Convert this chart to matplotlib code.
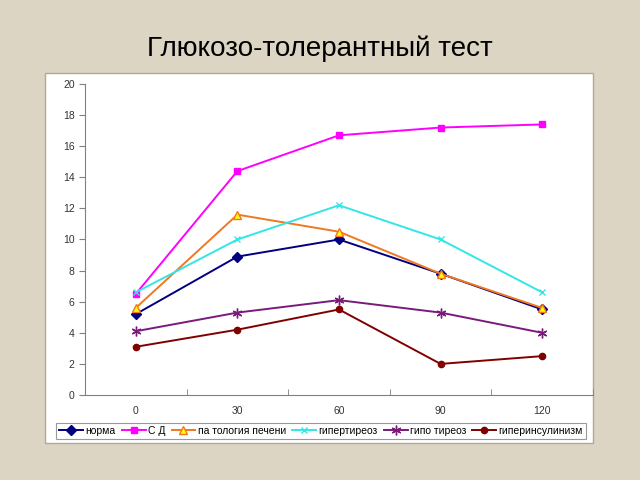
import matplotlib
matplotlib.use("Agg")
import matplotlib.pyplot as plt
from matplotlib.patches import Rectangle

plt.rcParams['font.family'] = ['Liberation Sans', 'DejaVu Sans']

times = ["0", "30", "60", "90", "120"]
norma = [5.2, 8.9, 10.0, 7.8, 5.5]
sd = [6.5, 14.4, 16.7, 17.2, 17.4]
liver = [5.6, 11.6, 10.5, 7.8, 5.6]
hyperthyr = [6.6, 10.0, 12.2, 10.0, 6.6]
hypothyr = [4.1, 5.3, 6.1, 5.3, 4.0]
hyperins = [3.1, 4.2, 5.5, 2.0, 2.5]

labels = ["норма", "С Д", "па тология печени", "гипертиреоз", "гипо тиреоз", "гиперинсулинизм"]

fig = plt.figure(figsize=(6.4, 4.8), dpi=100)
fig.patch.set_facecolor("#ddd5c4")
fig.patches.append(Rectangle((45 / 640, 1 - 443 / 480), 548 / 640, 370 / 480,
                             transform=fig.transFigure, facecolor="white",
                             edgecolor="#b0a898", lw=1, zorder=-10))
fig.text(0.5, 0.898, "Глюкозо-толерантный тест", ha="center", va="center",
         fontsize=20, color="black")

ax = fig.add_axes([85 / 640, 1 - 395 / 480, 508 / 640, 311 / 480])
ax.set_facecolor("none")
x = list(range(len(times)))

series = [
    (norma, "#000080", "D", "#000080", "#000080", 5),
    (sd, "#ff00ff", "s", "#ff00ff", "#ff00ff", 5),
    (liver, "#f07820", "^", "#ffff00", "#f07820", 6),
    (hyperthyr, "#33e6e6", "x", "#33e6e6", "#33e6e6", 5),
    (hypothyr, "#7a1a7a", (6, 2, 0), "#7a1a7a", "#7a1a7a", 7),
    (hyperins, "#800000", "o", "#800000", "#800000", 4.5),
]
for vals, col, mk, fc, ec, ms in series:
    ax.plot(x, vals, color=col, lw=1.4, marker=mk, markerfacecolor=fc,
            markeredgecolor=ec, markersize=ms, markeredgewidth=1)

ax.set_xlim(-0.5, 4.5)
ax.set_ylim(0, 20)
ax.set_yticks(range(0, 21, 2))
ax.set_xticks(x)
ax.set_xticklabels(times)
ax.set_xticks([i + 0.5 for i in range(-1, 5)], minor=True)
ax.tick_params(axis="x", which="major", length=0, pad=8)
ax.tick_params(axis="x", which="minor", length=4, direction="in", color="#808080")
ax.tick_params(axis="y", length=4, direction="out", color="#808080")
ax.tick_params(labelsize=7.5, labelcolor="#333333")
for s in ["top", "right"]:
    ax.spines[s].set_visible(False)
for s in ["left", "bottom"]:
    ax.spines[s].set_color("#808080")

leg = fig.legend(labels, loc="center", bbox_to_anchor=(321 / 640, 1 - 431 / 480),
                 ncol=6, fontsize=7.5, frameon=True, fancybox=False,
                 handlelength=2.3, handletextpad=0.2, columnspacing=0.6,
                 borderpad=0.3)
leg.get_frame().set_edgecolor("#808080")
leg.get_frame().set_linewidth(0.8)

fig.savefig("out.png", dpi=100, facecolor=fig.get_facecolor())
